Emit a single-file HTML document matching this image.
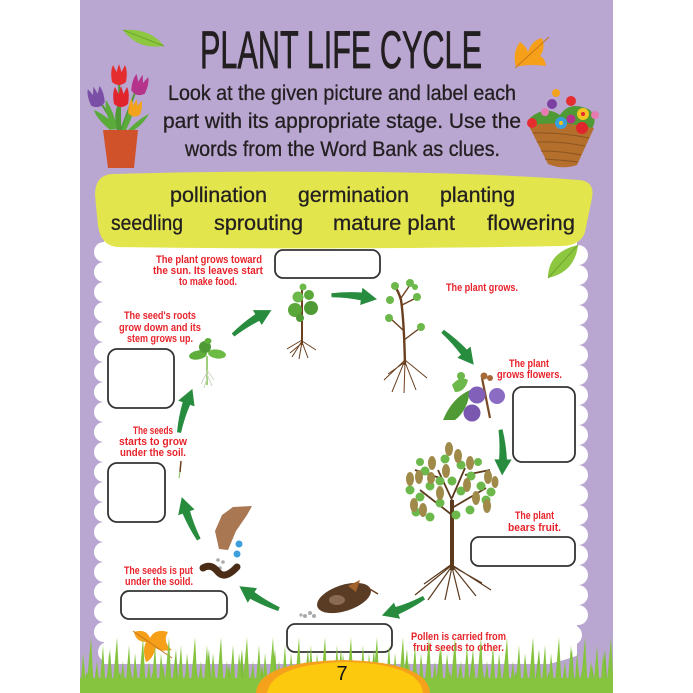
<!DOCTYPE html>
<html><head><meta charset="utf-8"><style>html,body{margin:0;padding:0;background:#fff;width:693px;height:693px;overflow:hidden}svg{display:block;overflow:hidden}</style></head>
<body>
<svg width="693" height="693" viewBox="0 0 693 693" xmlns="http://www.w3.org/2000/svg">
<defs>
<clipPath id="pg"><rect x="0" y="0" width="693" height="693"/></clipPath>
<g id="ar"><path d="M503.4,435 A165,165 0 0 1 506.8,466.7 L498.8,466.3 A161,161 0 0 0 499.4,435.6 Z"/><path d="M511.5,465.5 L501.4,481 L494.2,464.8 Z"/></g>
<path id="tul" d="M-7,0 Q-9,-11 -6,-17 L-2.5,-10 L0,-18 L2.5,-10 L6,-17 Q9,-11 7,0 Q0,6 -7,0 Z"/>
<pattern id="grass" patternUnits="userSpaceOnUse" x="80" y="635" width="26" height="58">
<path fill="#86c440" d="M0,58 L3,18 L7,58 Z M6,58 L11,2 L14,58 Z M13,58 L17,26 L20,58 Z M19,58 L23,10 L26,58 Z"/>
</pattern>
<pattern id="grass2" patternUnits="userSpaceOnUse" x="91" y="635" width="33" height="58">
<path fill="#7dbd3a" d="M2,58 L6,30 L10,58 Z M14,58 L19,14 L22,58 Z M24,58 L29,36 L32,58 Z"/>
</pattern>
</defs>
<g clip-path="url(#pg)">
<rect width="693" height="693" fill="#fff"/>
<rect x="80" y="0" width="533" height="693" fill="#b9a6d1"/>

<!-- white cloud area -->
<g fill="#fff">
<rect x="104" y="232" width="473" height="432"/>
<circle cx="104" cy="252" r="10"/><circle cx="104" cy="272" r="10"/><circle cx="104" cy="292" r="10"/><circle cx="104" cy="312" r="10"/><circle cx="104" cy="332" r="10"/><circle cx="104" cy="352" r="10"/><circle cx="104" cy="372" r="10"/><circle cx="104" cy="392" r="10"/><circle cx="104" cy="412" r="10"/><circle cx="104" cy="432" r="10"/><circle cx="104" cy="452" r="10"/><circle cx="104" cy="472" r="10"/><circle cx="104" cy="492" r="10"/><circle cx="104" cy="512" r="10"/><circle cx="104" cy="532" r="10"/><circle cx="104" cy="552" r="10"/><circle cx="104" cy="572" r="10"/><circle cx="104" cy="592" r="10"/><circle cx="104" cy="612" r="10"/><circle cx="104" cy="632" r="10"/><circle cx="108" cy="652" r="10"/>
<circle cx="578" cy="255" r="10"/><circle cx="578" cy="275" r="10"/><circle cx="578" cy="295" r="10"/><circle cx="578" cy="315" r="10"/><circle cx="578" cy="335" r="10"/><circle cx="578" cy="355" r="10"/><circle cx="578" cy="375" r="10"/><circle cx="578" cy="395" r="10"/><circle cx="578" cy="415" r="10"/><circle cx="578" cy="435" r="10"/><circle cx="578" cy="455" r="10"/><circle cx="578" cy="475" r="10"/><circle cx="578" cy="495" r="10"/><circle cx="578" cy="515" r="10"/><circle cx="578" cy="535" r="10"/><circle cx="578" cy="555" r="10"/><circle cx="578" cy="575" r="10"/><circle cx="578" cy="595" r="10"/><circle cx="578" cy="615" r="10"/><circle cx="572" cy="635" r="10"/>
</g>

<!-- yellow word bank band -->
<path fill="#e2e64c" d="M112,174 C300,169 480,172 580,180 Q595,182 592,198 L585,232 Q581,245 563,246 C400,249 250,249 118,247 Q101,246 98,226 L95,195 Q95,175 112,174 Z"/>

<!-- title & instructions -->
<text x="200" y="68" font-family="Liberation Sans, sans-serif" font-size="53" fill="#231f20" stroke="#231f20" stroke-width="0.8" textLength="282" lengthAdjust="spacingAndGlyphs">PLANT LIFE CYCLE</text>
<g font-family="Liberation Sans, sans-serif" font-size="21" fill="#231f20" stroke="#231f20" stroke-width="0.3">
<text x="168" y="100" textLength="348" lengthAdjust="spacingAndGlyphs">Look at the given picture and label each</text>
<text x="163" y="128" textLength="358" lengthAdjust="spacingAndGlyphs">part with its appropriate stage. Use the</text>
<text x="185" y="156" textLength="315" lengthAdjust="spacingAndGlyphs">words from the Word Bank as clues.</text>
</g>
<g font-family="Liberation Sans, sans-serif" font-size="21" fill="#231f20" stroke="#231f20" stroke-width="0.3">
<text x="170" y="202" textLength="97" lengthAdjust="spacingAndGlyphs">pollination</text>
<text x="298" y="202" textLength="111" lengthAdjust="spacingAndGlyphs">germination</text>
<text x="440" y="202" textLength="75" lengthAdjust="spacingAndGlyphs">planting</text>
<text x="111" y="230" textLength="72" lengthAdjust="spacingAndGlyphs">seedling</text>
<text x="214" y="230" textLength="89" lengthAdjust="spacingAndGlyphs">sprouting</text>
<text x="333" y="230" textLength="122" lengthAdjust="spacingAndGlyphs">mature plant</text>
<text x="487" y="230" textLength="88" lengthAdjust="spacingAndGlyphs">flowering</text>
</g>

<!-- red labels -->
<g font-family="Liberation Sans, sans-serif" font-weight="bold" font-size="11" fill="#e8232b">
<text x="156" y="263" textLength="106" lengthAdjust="spacingAndGlyphs">The plant grows toward</text>
<text x="153" y="274" textLength="110" lengthAdjust="spacingAndGlyphs">the sun. Its leaves start</text>
<text x="179" y="285" textLength="58" lengthAdjust="spacingAndGlyphs">to make food.</text>
<text x="446" y="291" textLength="72" lengthAdjust="spacingAndGlyphs">The plant grows.</text>
<text x="124" y="319" textLength="72" lengthAdjust="spacingAndGlyphs">The seed's roots</text>
<text x="119" y="331" textLength="82" lengthAdjust="spacingAndGlyphs">grow down and its</text>
<text x="127" y="342" textLength="66" lengthAdjust="spacingAndGlyphs">stem grows up.</text>
<text x="509" y="367" textLength="40" lengthAdjust="spacingAndGlyphs">The plant</text>
<text x="497" y="378" textLength="65" lengthAdjust="spacingAndGlyphs">grows flowers.</text>
<text x="133" y="434" textLength="40" lengthAdjust="spacingAndGlyphs">The seeds</text>
<text x="119" y="445" textLength="68" lengthAdjust="spacingAndGlyphs">starts to grow</text>
<text x="120" y="456" textLength="66" lengthAdjust="spacingAndGlyphs">under the soil.</text>
<text x="515" y="519" textLength="39" lengthAdjust="spacingAndGlyphs">The plant</text>
<text x="508" y="531" textLength="53" lengthAdjust="spacingAndGlyphs">bears fruit.</text>
<text x="124" y="574" textLength="69" lengthAdjust="spacingAndGlyphs">The seeds is put</text>
<text x="125" y="585" textLength="68" lengthAdjust="spacingAndGlyphs">under the soild.</text>
<text x="411" y="640" textLength="95" lengthAdjust="spacingAndGlyphs">Pollen is carried from</text>
<text x="413" y="651" textLength="91" lengthAdjust="spacingAndGlyphs">fruit seeds to other.</text>
</g>

<!-- answer boxes -->
<g fill="#fff" stroke="#333" stroke-width="1.8">
<rect x="275" y="250" width="105" height="28" rx="8"/>
<rect x="108" y="349" width="66" height="59" rx="9"/>
<rect x="513" y="387" width="62" height="75" rx="9"/>
<rect x="108" y="463" width="57" height="59" rx="9"/>
<rect x="471" y="537" width="104" height="29" rx="8"/>
<rect x="121" y="591" width="106" height="28" rx="8"/>
<rect x="287" y="624" width="105" height="28" rx="8"/>
</g>

<!-- cycle arrows -->
<g fill="#288c3e">
<use href="#ar" transform="rotate(-123 340 458)"/>
<use href="#ar" transform="rotate(-85 340 458)"/>
<use href="#ar" transform="rotate(-43 340 458)"/>
<use href="#ar" transform="rotate(-2 340 458)"/>
<use href="#ar" transform="rotate(67 340 458)"/>
<use href="#ar" transform="rotate(120 340 458)"/>
<use href="#ar" transform="rotate(158 340 458)"/>
<use href="#ar" transform="rotate(197 340 458)"/>
</g>

<!-- seedling -->
<g>
<path d="M207,356 L207,385" stroke="#9fcf7a" stroke-width="2"/>
<path d="M207,372 L201,384 M207,374 L212,386 M207,378 L204,388 M207,370 L214,380" stroke="#cfd9c6" stroke-width="1"/>
<ellipse cx="198" cy="355" rx="9" ry="4.5" fill="#5fae3c" transform="rotate(-10 198 355)"/>
<ellipse cx="217" cy="354" rx="9" ry="4.5" fill="#6cbc44" transform="rotate(8 217 354)"/>
<ellipse cx="205" cy="347" rx="6" ry="6" fill="#4f9a35"/>
<ellipse cx="208" cy="341" rx="3.5" ry="3" fill="#5fae3c"/>
</g>

<!-- young plant -->
<g>
<path d="M302,289 L302,345" stroke="#6b3f1e" stroke-width="2"/>
<path d="M302,340 L287,349 M302,341 L292,357 M302,342 L299,359 M302,342 L308,358 M302,341 L316,350 M302,343 L290,353" stroke="#6b3f1e" stroke-width="1"/>
<circle cx="295" cy="310" r="7" fill="#5aa83a"/><circle cx="311" cy="308" r="7" fill="#4f9a35"/>
<circle cx="298" cy="297" r="5.5" fill="#6cb84a"/><circle cx="309" cy="295" r="5" fill="#5aa83a"/>
<circle cx="303" cy="287" r="3.5" fill="#6cb84a"/><circle cx="300" cy="318" r="4" fill="#4f9a35"/>
</g>

<!-- taller plant -->
<g stroke="#6b3f1e" fill="none">
<path d="M405,365 Q404,320 401,300 Q398,290 395,287" stroke-width="2.4"/>
<path d="M403,330 L390,318 M404,340 L420,328 M402,305 L416,298 M401,298 L410,285" stroke-width="1.4"/>
<path d="M405,360 L384,380 M405,360 L392,392 M405,362 L404,393 M405,362 L416,390 M405,360 L427,378 M405,362 L388,374" stroke-width="1"/>
</g>
<g fill="#6cb84a">
<circle cx="395" cy="286" r="4"/><circle cx="410" cy="283" r="4"/><circle cx="390" cy="300" r="4"/><circle cx="417" cy="297" r="4"/>
<circle cx="389" cy="318" r="4"/><circle cx="421" cy="327" r="4"/><circle cx="415" cy="287" r="3"/>
</g>

<!-- flowering plant -->
<g>
<path d="M443,420 Q452,398 470,390 Q468,410 455,420 Z" fill="#4f9a35"/>
<path d="M452,385 Q460,375 468,380 Q465,392 455,392 Z" fill="#6cb84a"/>
<circle cx="461" cy="376" r="4" fill="#6cb84a"/>
<path d="M482,378 L490,418" stroke="#7a4a24" stroke-width="2.2"/>
<circle cx="484" cy="376" r="3.5" fill="#a66a36"/><circle cx="490" cy="378" r="3" fill="#a66a36"/>
<circle cx="477" cy="395" r="8.5" fill="#8060b8"/>
<circle cx="497" cy="396" r="8" fill="#8a6cc2"/>
<circle cx="472" cy="413" r="8.5" fill="#7a58b0"/>
</g>

<!-- big tree -->
<g stroke="#5b3a1e" fill="none">
<path d="M452,570 L452,500" stroke-width="4"/>
<path d="M452,515 L420,490 M452,508 L486,488 M452,500 L438,470 M452,498 L465,468 M440,478 L415,470 M465,475 L490,470" stroke-width="1.8"/>
<path d="M452,565 L415,595 M452,566 L428,600 M452,567 L445,600 M452,567 L460,600 M452,566 L476,596 M452,565 L491,590 M452,564 L424,584 M452,566 L482,583" stroke-width="1.2"/>
</g>
<g fill="#6cb84a">
<circle cx="410" cy="490" r="4.5"/><circle cx="420" cy="497" r="4.5"/><circle cx="430" cy="486" r="4.5"/><circle cx="440" cy="481" r="4.5"/><circle cx="452" cy="481" r="4.5"/><circle cx="461" cy="491" r="4.5"/><circle cx="471" cy="476" r="4.5"/><circle cx="481" cy="486" r="4.5"/><circle cx="491" cy="492" r="4.5"/><circle cx="425" cy="471" r="4.5"/><circle cx="445" cy="459" r="4.5"/><circle cx="461" cy="465" r="4.5"/><circle cx="470" cy="510" r="4.5"/><circle cx="430" cy="517" r="4.5"/><circle cx="456" cy="515" r="4.5"/><circle cx="416" cy="512" r="4.5"/><circle cx="486" cy="500" r="4.5"/><circle cx="440" cy="503" r="4.5"/><circle cx="478" cy="462" r="4"/><circle cx="420" cy="462" r="4"/>
</g>
<g fill="#a08a4a">
<ellipse cx="449" cy="449" rx="4" ry="7"/><ellipse cx="458" cy="456" rx="4" ry="7"/><ellipse cx="432" cy="463" rx="4" ry="7"/><ellipse cx="410" cy="479" rx="4" ry="7"/><ellipse cx="419" cy="477" rx="4" ry="7"/><ellipse cx="431" cy="478" rx="4" ry="6"/><ellipse cx="446" cy="471" rx="4" ry="7"/><ellipse cx="470" cy="463" rx="4" ry="7"/><ellipse cx="488" cy="477" rx="4" ry="7"/><ellipse cx="495" cy="482" rx="3.5" ry="6"/><ellipse cx="414" cy="505" rx="4" ry="7"/><ellipse cx="423" cy="510" rx="4" ry="7"/><ellipse cx="440" cy="493" rx="4" ry="7"/><ellipse cx="467" cy="485" rx="4" ry="7"/><ellipse cx="476" cy="498" rx="4" ry="7"/><ellipse cx="487" cy="506" rx="4" ry="7"/>
</g>

<!-- seed pod -->
<g>
<ellipse cx="344" cy="598" rx="28" ry="13" fill="#5a3b24" transform="rotate(-18 344 598)"/>
<path d="M348,586 L360,580 L356,592 Z" fill="#a0622a"/>
<path d="M368,588 L378,594" stroke="#6b3f1e" stroke-width="1.5"/>
<ellipse cx="337" cy="600" rx="8" ry="5" fill="#8a6a52"/>
<circle cx="305" cy="616" r="2" fill="#aaa"/><circle cx="310" cy="613" r="2" fill="#aaa"/><circle cx="314" cy="616" r="2" fill="#aaa"/><circle cx="301" cy="615" r="1.6" fill="#aaa"/>
</g>

<!-- hand, water, seeds, soil -->
<path d="M233,507 L252,506 L247,515 L236,531 L228,550 L219,549 L215,531 L222,515 Z" fill="#a97752"/>
<circle cx="239" cy="544" r="3.5" fill="#3f9fdc"/><circle cx="237" cy="554" r="3.5" fill="#3f9fdc"/>
<circle cx="218" cy="560" r="1.8" fill="#aaa"/><circle cx="223" cy="562" r="1.8" fill="#aaa"/><circle cx="220" cy="568" r="1.8" fill="#aaa"/>
<path d="M203,568 Q211,563 218,572 Q225,580 237,567" stroke="#4a2c17" stroke-width="7" fill="none" stroke-linecap="round"/>
<path d="M181,461 L180,472" stroke="#6b3f1e" stroke-width="1.5"/><path d="M180,472 L179,478" stroke="#7bbf55" stroke-width="1"/>

<!-- decorations top -->
<path d="M123,30 Q150,28 164,46 Q138,50 123,30 Z" fill="#8dc63f"/>
<path d="M123,30 L164,46" stroke="#6fa52e" stroke-width="1"/>
<path d="M516,67 Q512,52 520,42 Q526,46 528,52 Q532,40 542,38 Q546,48 540,56 Q545,58 546,66 Q532,64 520,66 Z" fill="#f6a01a"/>
<path d="M515,68 L549,37" stroke="#c8761a" stroke-width="1"/>
<path d="M548,278 Q548,252 578,245 Q575,272 548,278 Z" fill="#8dc63f"/>
<path d="M548,278 L578,245" stroke="#6fa52e" stroke-width="1"/>
<path d="M134,632 Q146,628 150,638 Q155,628 168,632 Q162,642 172,650 Q160,652 156,648 Q152,660 146,662 Q142,650 146,642 Q136,642 134,632 Z" fill="#f6a01a"/>
<path d="M133,631 L172,658" stroke="#c8761a" stroke-width="1"/>

<!-- tulip pot -->
<g stroke="#4f9a35" stroke-width="2" fill="none">
<path d="M120,130 L119,78 M121,130 L136,90 M118,130 L99,100 M120,130 L120,100 M124,130 L133,110"/>
</g>
<g fill="#5aab3a">
<path d="M110,130 Q96,118 94,110 Q108,116 116,128 Z"/>
<path d="M113,130 Q104,112 106,100 Q114,112 117,128 Z"/>
<path d="M122,130 Q126,112 136,104 Q132,118 126,130 Z"/>
<path d="M128,130 Q140,118 149,114 Q142,126 132,131 Z"/>
<path d="M117,130 Q113,115 118,104 Q122,118 121,130 Z" fill="#4f9a35"/>
</g>
<use href="#tul" transform="translate(119 82)" fill="#e52d2f"/>
<use href="#tul" transform="translate(138 92) rotate(15)" fill="#b5338b"/>
<use href="#tul" transform="translate(98 104) rotate(-15)" fill="#7a4fa5"/>
<use href="#tul" transform="translate(121 104)" fill="#e0262c"/>
<use href="#tul" transform="translate(134 114) rotate(10) scale(0.85)" fill="#f3a21d"/>
<path d="M103,130 L138,130 L134,168 L108,168 Z" fill="#d0522a"/>

<!-- flower basket -->
<path d="M528,124 Q560,118 594,128 L577,165 Q562,170 548,164 Z" fill="#b46f2c"/>
<g stroke="#8d5420" stroke-width="1" fill="none">
<path d="M533,133 Q560,132 589,138 M537,142 Q560,141 585,146 M541,151 Q562,151 581,155 M545,159 Q562,160 578,162"/>
</g>
<g>
<path d="M530,118 Q545,105 560,115 Q570,100 590,110 Q598,120 592,128 Q560,120 528,126 Z" fill="#4f9a35"/>
<circle cx="556" cy="93" r="4" fill="#f3a21d"/>
<circle cx="552" cy="104" r="5" fill="#7a3fa0"/>
<circle cx="571" cy="101" r="5" fill="#e52d2f"/>
<circle cx="545" cy="112" r="4" fill="#e77bb0"/>
<circle cx="561" cy="123" r="6" fill="#3aa0dc"/>
<circle cx="583" cy="114" r="6" fill="#f5c321"/>
<circle cx="532" cy="123" r="5" fill="#e52d2f"/>
<circle cx="582" cy="128" r="6" fill="#e0262c"/>
<circle cx="571" cy="119" r="4.5" fill="#b5338b"/>
<circle cx="595" cy="115" r="4" fill="#e77bb0"/>
<circle cx="561" cy="123" r="2" fill="#f5c321"/>
<circle cx="583" cy="114" r="2" fill="#e0262c"/>
</g>

<!-- grass -->
<path d="M80,668 Q120,660 160,668 Q220,676 260,664 L260,693 L80,693 Z" fill="#b9a6d1"/>
<path d="M430,672 Q480,662 530,668 Q575,660 613,640 L613,693 L430,693 Z" fill="#b9a6d1"/>
<rect x="80" y="635" width="533" height="58" fill="url(#grass2)"/>
<rect x="80" y="635" width="533" height="58" fill="url(#grass)"/>
<rect x="80" y="678" width="533" height="15" fill="#86c440"/>

<!-- page number blob -->
<path d="M256,693 Q258,662 343,660 Q428,662 430,693 Z" fill="#f5a11c"/>
<path d="M267,693 Q272,664 346,662 Q420,664 423,693 Z" fill="#fdc90f"/>
<text x="342" y="680" font-family="Liberation Sans, sans-serif" font-size="20" fill="#111" text-anchor="middle">7</text>
</g>
</svg>
</body></html>
